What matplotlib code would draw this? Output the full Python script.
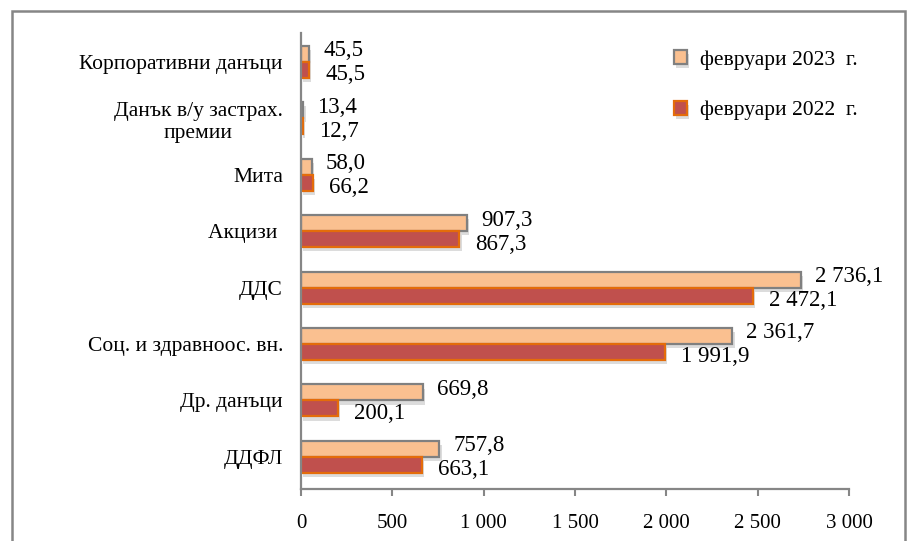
import matplotlib.pyplot as plt
import matplotlib.patheffects as pe
from matplotlib.patches import Rectangle
from matplotlib.ticker import FuncFormatter

plt.rcParams['font.family'] = ['Liberation Serif', 'DejaVu Serif']

# data, bottom to top
categories = ['ДДФЛ', 'Др. данъци', 'Соц. и здравноос. вн.', 'ДДС', 'Акцизи ',
              'Мита', 'Данък в/у застрах.\nпремии', 'Корпоративни данъци']
feb2023 = [757.8, 669.8, 2361.7, 2736.1, 907.3, 58.0, 13.4, 45.5]
feb2022 = [663.1, 200.1, 1991.9, 2472.1, 867.3, 66.2, 12.7, 45.5]
series_labels = ['февруари 2023  г.', 'февруари 2022  г.']
xticks = [0, 500, 1000, 1500, 2000, 2500, 3000]


def fmt(v):
    s = f'{v:,.1f}'
    return s.replace(',', ' ').replace('.', ',')


fig = plt.figure(figsize=(9.13, 5.41), dpi=100)
ax = fig.add_axes([0.3297, 0.0961, 0.6003, 0.8429])

h = 0.284
y = list(range(len(categories)))
shadow = [pe.SimplePatchShadow(offset=(1.5, -3), shadow_rgbFace='#bbbbbb', alpha=0.5), pe.Normal()]

b1 = ax.barh([i + h / 2 for i in y], feb2023, height=h, color='#FAC090',
             edgecolor='#808080', linewidth=1.6, label=series_labels[0])
b2 = ax.barh([i - h / 2 for i in y], feb2022, height=h, color='#C0504D',
             edgecolor='#E46C0A', linewidth=1.6, label=series_labels[1])
for p in list(b1) + list(b2):
    p.set_path_effects(shadow)

for i in y:
    ax.annotate(fmt(feb2023[i]), (feb2023[i], i + h / 2), xytext=(14, 3),
                textcoords='offset pixels', va='center', ha='left', fontsize=16.5)
    ax.annotate(fmt(feb2022[i]), (feb2022[i], i - h / 2), xytext=(16, -5),
                textcoords='offset pixels', va='center', ha='left', fontsize=16.5)

ax.set_xlim(0, 3000)
ax.set_ylim(-0.57, 7.51)
ax.set_xticks(xticks)
ax.xaxis.set_major_formatter(FuncFormatter(lambda v, p: f'{int(v):,}'.replace(',', ' ')))
ax.set_yticks(y)
ax.set_yticklabels(categories, multialignment='center')
ax.tick_params(axis='y', length=0, pad=13, labelsize=15.5)
ax.tick_params(axis='x', length=5, width=1.5, color='#868686', pad=13, labelsize=15)

for s in ['top', 'right']:
    ax.spines[s].set_visible(False)
for s in ['left', 'bottom']:
    ax.spines[s].set_color('#868686')
    ax.spines[s].set_linewidth(1.6)

leg = ax.legend(loc='upper left', bbox_to_anchor=(0.645, 1.005), frameon=False,
                fontsize=15.5, labelspacing=1.45, handlelength=0.6,
                handleheight=0.6, handletextpad=0.6)

# outer border of the chart area
fig.patches.append(Rectangle((12 / 913, -0.05), (905 - 12) / 913, 1.05 - 11 / 541,
                             transform=fig.transFigure, fill=False,
                             edgecolor='#868686', linewidth=1.8))

fig.savefig('out.png', dpi=100)
